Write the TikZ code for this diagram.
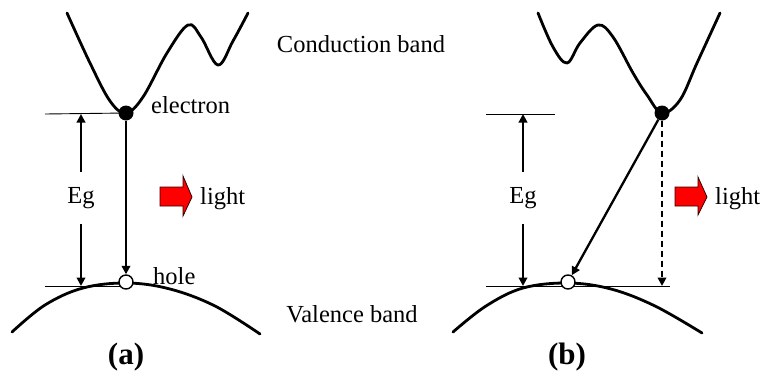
\documentclass[tikz,border=0pt]{standalone}
\usepackage{fontspec}
\setmainfont{Liberation Serif}
\usetikzlibrary{arrows.meta}
\begin{document}
\begin{tikzpicture}[x=1pt,y=-1pt,
 band/.style={line width=2.8pt, line join=round, line cap=round},
 level/.style={line width=0.9pt},
 tip/.style={-{Triangle[length=8.5pt,width=8.5pt]}},
 trans/.style={line width=2.3pt, tip},
 elec/.style={circle,fill=black,minimum size=15pt,inner sep=0pt},
 holec/.style={circle,draw=black,fill=white,line width=1.4pt,minimum size=14pt,inner sep=0pt},
 lbl/.style={font=\fontsize{24.5}{28}\selectfont, inner sep=0pt},
 eglbl/.style={lbl, minimum height=52pt},
 panel/.style={font=\fontsize{31}{35}\selectfont\bfseries, inner sep=0pt},
 lightarrow/.style={fill=red, draw=black!80!red, line width=0.8pt}
]
\useasboundingbox (0,0) rectangle (762,378);

% ---------- panel (a) ----------
\draw[band] plot[smooth, tension=0.6] coordinates {(67,13) (90,63) (110,101) (126,113) (143,97) (167,53) (188,25) (201,37) (218,65) (233,41) (248,13)};
\draw[band] plot[smooth, tension=0.6] coordinates {(12,332) (45,305) (83,288) (127,283) (170,289) (215,306) (260,334)};
\coordinate (tla) at (45,114);
\coordinate (bla) at (45,286);
\coordinate (tra) at (81,114);
\coordinate (bra) at (81,286);
\coordinate (bea) at (126,286);
\node[elec] (ea) at (126,113) {};
\draw[level] (tla) -- (ea.center);
\draw[level] (bla) -- (bea);
\node[holec] (ha) at (126,282) {};
\draw[trans] (ea) -- (ha);
\node[eglbl] (ega) at (81,198) {Eg};
\draw[trans] (ega.north) -- (tra);
\draw[trans] (ega.south) -- (bra);
\node[lbl, anchor=west] (el) at (151,105) {electron};
\node[lbl, anchor=west] (hl) at (153,276) {hole};
\draw[lightarrow] (160,187) -- (183,187) -- (183,176) -- (192,197) -- (183,216) -- (183,206) -- (160,206) -- cycle;
\node[lbl, anchor=west] (la) at (200,199) {light};
\node[panel] (pa) at (126,357) {(a)};

% ---------- middle labels ----------
\node[lbl] (cb) at (361,44) {Conduction band};
\node[lbl] (vb) at (352,314) {Valence band};

% ---------- panel (b) ----------
\draw[band] plot[smooth, tension=0.6] coordinates {(538,13) (553,47) (567,63) (580,43) (598,25) (613,37) (633,73) (647,95) (662,113) (680,100) (697,63) (720,13)};
\draw[band] plot[smooth, tension=0.6] coordinates {(453,332) (486,306) (523,288) (568,283) (611,289) (655,306) (702,333)};
\coordinate (tlb) at (486,114);
\coordinate (trb) at (555,114);
\coordinate (blb) at (486,286);
\coordinate (brb) at (670,286);
\coordinate (tgb) at (523,114);
\coordinate (bgb) at (523,286);
\coordinate (db) at (662,286);
\node[elec] (eb) at (662,113) {};
\draw[level] (tlb) -- (trb);
\draw[level] (blb) -- (brb);
\node[holec] (hb) at (568,282) {};
\draw[trans] (eb) -- (hb);
\draw[trans, dash pattern=on 6pt off 4pt] (eb) -- (db);
\node[eglbl] (egb) at (523,198) {Eg};
\draw[trans] (egb.north) -- (tgb);
\draw[trans] (egb.south) -- (bgb);
\draw[lightarrow] (675,187) -- (698,187) -- (698,177) -- (707,197) -- (698,215) -- (698,206) -- (675,206) -- cycle;
\node[lbl, anchor=west] (lb) at (715,199) {light};
\node[panel] (pb) at (567,357) {(b)};
\end{tikzpicture}
\end{document}
